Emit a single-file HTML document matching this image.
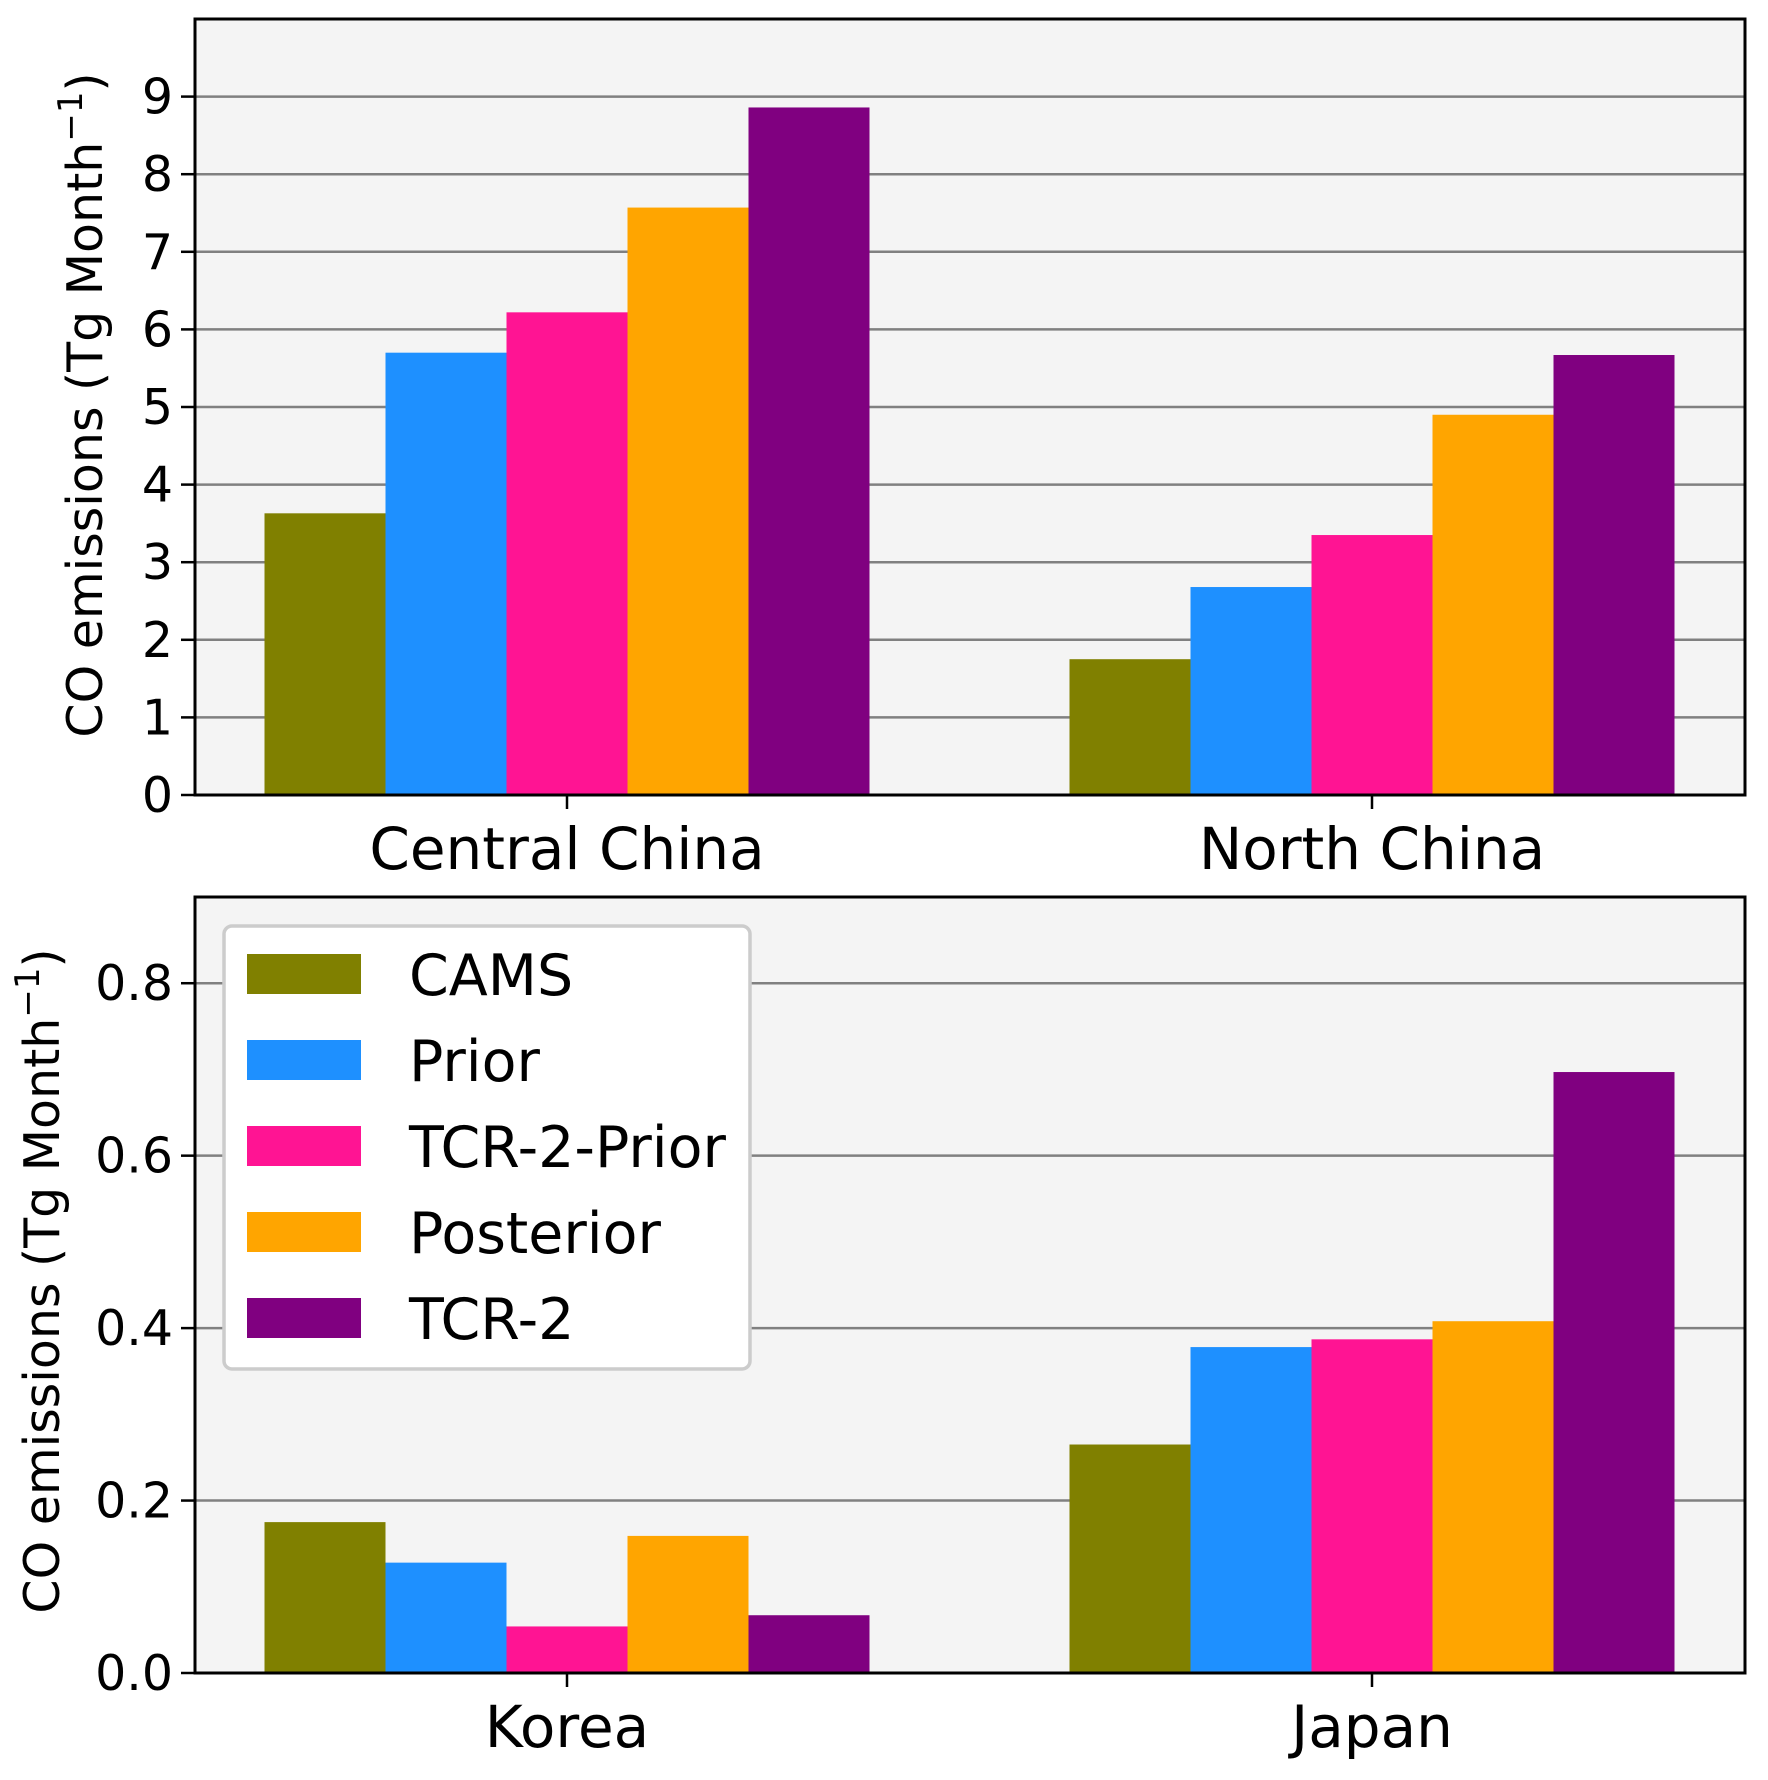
<!DOCTYPE html>
<html><head><meta charset="utf-8"><style>
html,body{margin:0;padding:0;background:#fff;}
svg{display:block;font-family:"DejaVu Sans","Liberation Sans",sans-serif;}
</style></head><body>
<svg id="chart" width="1768" height="1780" viewBox="0 0 1768 1780"></svg>
<script>
const seriesNames = ["CAMS","Prior","TCR-2-Prior","Posterior","TCR-2"];
const seriesColors = ["#808000","#1e90ff","#ff1493","#ffa500","#800080"];
const topCategories = ["Central China","North China"];
const topValues = [[3.63,1.75],[5.70,2.68],[6.22,3.35],[7.57,4.90],[8.86,5.67]];
const topTicks = [0,1,2,3,4,5,6,7,8,9];
const topTickLabels = ["0","1","2","3","4","5","6","7","8","9"];
const botCategories = ["Korea","Japan"];
const botValues = [[0.175,0.265],[0.128,0.378],[0.054,0.387],[0.159,0.408],[0.067,0.697]];
const botTicks = [0,0.2,0.4,0.6,0.8];
const botTickLabels = ["0.0","0.2","0.4","0.6","0.8"];

const NS="http://www.w3.org/2000/svg";
const svg=document.getElementById('chart');
function mk(tag,attrs,parent){const e=document.createElementNS(NS,tag);for(const k in attrs)e.setAttribute(k,attrs[k]);(parent||svg).appendChild(e);return e;}

function panel(opt){
  const L=195,R=1745,T=opt.top,B=opt.bottom;
  const g=mk('g',{});
  
  
  const y=v=>B-(v/opt.ymax)*(B-T);
  const x=c=>567+c*805;
  const bg=mk('rect',{x:L,y:T,width:R-L,height:B-T,fill:'#f4f4f4'},g);
  
  
  opt.ticks.forEach((t,i)=>{
    const yy=y(t);
    if(t>0){const gl=mk('line',{x1:L,x2:R,y1:yy,y2:yy,stroke:'#808080','stroke-width':2.5},g);
      
      }
    const tk=mk('line',{x1:L-14,x2:L,y1:yy,y2:yy,stroke:'#000','stroke-width':2.5},g);
    
    
    const tl=mk('text',{x:L-22,y:yy+17,'text-anchor':'end','font-size':49,fill:'#000'},g);
    tl.textContent=opt.tickLabels[i];
    
    
  });
  const bw=121;
  opt.values.forEach((ser,s)=>{
    ser.forEach((v,c)=>{
      const cx=x(c)+(s-2)*bw;
      const r=mk('rect',{x:cx-bw/2,y:y(v),width:bw,height:B-y(v),fill:seriesColors[s]},g);
      
      
    });
  });
  opt.cats.forEach((c,i)=>{
    const tk=mk('line',{x1:x(i),x2:x(i),y1:B,y2:B+14,stroke:'#000','stroke-width':2.5},g);
    
    
    const tl=mk('text',{x:x(i),y:B+74,'text-anchor':'middle','font-size':58,fill:'#000'},g);
    tl.textContent=c;
    
    
  });
  const fr=mk('rect',{x:L,y:T,width:R-L,height:B-T,fill:'none',stroke:'#000','stroke-width':3},g);
  
  
  const yl=mk('text',{x:0,y:0,'text-anchor':'middle','font-size':49,fill:'#000',transform:`translate(${opt.ylx},${opt.yly}) rotate(-90)`},g);
  yl.innerHTML='CO emissions (Tg Month<tspan dy="-20" font-size="34">−1</tspan><tspan dy="20">)</tspan>';
  
  
}
panel({name:'top-panel',top:19,bottom:795,ymax:10,ticks:topTicks,tickLabels:topTickLabels,values:topValues,cats:topCategories,ylx:102,yly:405});
panel({name:'bottom-panel',top:897,bottom:1673,ymax:0.9,ticks:botTicks,tickLabels:botTickLabels,values:botValues,cats:botCategories,ylx:59,yly:1281});

const lg=mk('g',{});


const lb=mk('rect',{x:224,y:926,width:526,height:443,rx:8,fill:'#fff',stroke:'#cccccc','stroke-width':3.5},lg);


seriesNames.forEach((n,i)=>{
  const cy=974+i*86;
  const p=mk('rect',{x:247,y:cy-20,width:114,height:40,fill:seriesColors[i]},lg);
  
  
  const t=mk('text',{x:409,y:cy+21,'font-size':57,fill:'#000'},lg);
  t.textContent=n;
  
  
});
</script>
</body></html>
